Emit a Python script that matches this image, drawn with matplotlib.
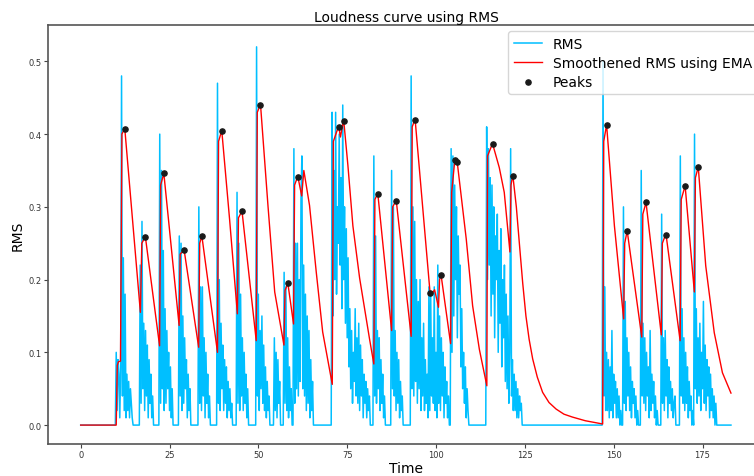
import numpy as np
import matplotlib
matplotlib.use('Agg')
import matplotlib.pyplot as plt

# RMS frames, 0.25 s apart (silence elsewhere)
frame_step = 0.25
clip_end = 183.0

rms_10_40 = [
    0.10, 0.02, 0.09, 0.07, 0.01, 0.08, 0.48, 0.04,
    0.23, 0.02, 0.18, 0.01, 0.07, 0.02, 0.06, 0.01,
    0.05, 0.03, 0.01, 0.00, 0.00, 0.00, 0.00, 0.00,
    0.00, 0.00, 0.00, 0.22, 0.03, 0.28, 0.05, 0.14,
    0.02, 0.13, 0.04, 0.11, 0.01, 0.09, 0.03, 0.07,
    0.01, 0.04, 0.00, 0.00, 0.00, 0.00, 0.00, 0.00,
    0.00, 0.40, 0.03, 0.35, 0.05, 0.24, 0.02, 0.16,
    0.03, 0.13, 0.05, 0.10, 0.02, 0.08, 0.01, 0.05,
    0.00, 0.00, 0.00, 0.00, 0.00, 0.00, 0.00, 0.26,
    0.04, 0.25, 0.02, 0.15, 0.03, 0.12, 0.05, 0.09,
    0.01, 0.07, 0.02, 0.05, 0.00, 0.00, 0.00, 0.00,
    0.00, 0.00, 0.00, 0.00, 0.00, 0.30, 0.03, 0.19,
    0.02, 0.19, 0.04, 0.12, 0.01, 0.10, 0.03, 0.07,
    0.01, 0.04, 0.00, 0.00, 0.00, 0.00, 0.00, 0.00,
    0.00, 0.00, 0.47, 0.03, 0.20, 0.02, 0.14, 0.05,
]
rms_40_70 = [
    0.11, 0.02, 0.09, 0.03, 0.08, 0.01, 0.06, 0.02,
    0.05, 0.01, 0.03, 0.00, 0.00, 0.00, 0.00, 0.00,
    0.32, 0.03, 0.25, 0.02, 0.18, 0.04, 0.12, 0.02,
    0.10, 0.03, 0.07, 0.01, 0.05, 0.00, 0.00, 0.00,
    0.00, 0.00, 0.00, 0.00, 0.00, 0.00, 0.52, 0.04,
    0.18, 0.02, 0.13, 0.05, 0.15, 0.03, 0.11, 0.02,
    0.08, 0.01, 0.06, 0.02, 0.04, 0.00, 0.00, 0.00,
    0.00, 0.00, 0.12, 0.02, 0.10, 0.01, 0.09, 0.03,
    0.06, 0.00, 0.00, 0.00, 0.00, 0.21, 0.03, 0.19,
    0.02, 0.12, 0.01, 0.08, 0.02, 0.05, 0.00, 0.00,
    0.38, 0.03, 0.25, 0.05, 0.25, 0.04, 0.20, 0.06,
    0.31, 0.37, 0.05, 0.22, 0.04, 0.18, 0.02, 0.15,
    0.03, 0.13, 0.01, 0.09, 0.02, 0.06, 0.00, 0.00,
]
rms_70_100 = [
    0.00, 0.00, 0.00, 0.43, 0.15, 0.35, 0.20, 0.43,
    0.18, 0.30, 0.25, 0.40, 0.22, 0.34, 0.16, 0.44,
    0.20, 0.30, 0.14, 0.27, 0.12, 0.23, 0.08, 0.16,
    0.05, 0.13, 0.03, 0.10, 0.06, 0.16, 0.04, 0.12,
    0.03, 0.14, 0.02, 0.11, 0.04, 0.09, 0.01, 0.07,
    0.03, 0.06, 0.01, 0.05, 0.02, 0.04, 0.00, 0.00,
    0.00, 0.00, 0.37, 0.04, 0.26, 0.03, 0.13, 0.05,
    0.12, 0.02, 0.09, 0.03, 0.07, 0.01, 0.04, 0.00,
    0.00, 0.00, 0.00, 0.00, 0.00, 0.00, 0.35, 0.05,
    0.30, 0.04, 0.13, 0.02, 0.10, 0.03, 0.09, 0.01,
    0.06, 0.02, 0.04, 0.00, 0.00, 0.00, 0.00, 0.00,
    0.00, 0.00, 0.00, 0.00, 0.48, 0.05, 0.30, 0.04,
    0.28, 0.06, 0.20, 0.03, 0.17, 0.05, 0.20, 0.02,
    0.12, 0.04, 0.14, 0.02, 0.09, 0.03, 0.07, 0.01,
    0.19, 0.02, 0.18, 0.04, 0.12, 0.03, 0.19, 0.02,
]
rms_100_125 = [
    0.10, 0.01, 0.22, 0.03, 0.15, 0.02, 0.12, 0.04,
    0.10, 0.01, 0.08, 0.03, 0.06, 0.01, 0.04, 0.00,
    0.00, 0.38, 0.10, 0.37, 0.15, 0.33, 0.20, 0.30,
    0.12, 0.26, 0.18, 0.22, 0.08, 0.16, 0.05, 0.10,
    0.03, 0.08, 0.01, 0.05, 0.02, 0.00, 0.00, 0.00,
    0.00, 0.00, 0.00, 0.00, 0.00, 0.00, 0.00, 0.00,
    0.00, 0.00, 0.00, 0.00, 0.00, 0.00, 0.00, 0.00,
    0.00, 0.41, 0.20, 0.38, 0.22, 0.34, 0.15, 0.33,
    0.18, 0.30, 0.12, 0.26, 0.20, 0.29, 0.10, 0.24,
    0.14, 0.27, 0.08, 0.20, 0.12, 0.22, 0.06, 0.18,
    0.05, 0.15, 0.03, 0.10, 0.38, 0.04, 0.09, 0.02,
    0.07, 0.02, 0.06, 0.01, 0.05, 0.01, 0.04, 0.02,
    0.03, 0.00, 0.00, 0.00,
]
rms_147_180 = [
    0.50, 0.04, 0.19, 0.02, 0.10, 0.02, 0.09, 0.01,
    0.08, 0.02, 0.13, 0.01, 0.07, 0.03, 0.06, 0.01,
    0.05, 0.01, 0.04, 0.00, 0.02, 0.00, 0.00, 0.30,
    0.03, 0.17, 0.02, 0.12, 0.04, 0.10, 0.02, 0.08,
    0.01, 0.06, 0.03, 0.05, 0.01, 0.04, 0.00, 0.02,
    0.00, 0.00, 0.00, 0.35, 0.04, 0.14, 0.03, 0.12,
    0.02, 0.10, 0.04, 0.08, 0.01, 0.13, 0.02, 0.07,
    0.03, 0.06, 0.01, 0.04, 0.00, 0.02, 0.00, 0.00,
    0.00, 0.00, 0.29, 0.03, 0.12, 0.02, 0.13, 0.04,
    0.09, 0.01, 0.08, 0.03, 0.06, 0.02, 0.05, 0.01,
    0.03, 0.04, 0.00, 0.00, 0.00, 0.00, 0.00, 0.37,
    0.04, 0.16, 0.03, 0.12, 0.02, 0.10, 0.03, 0.08,
    0.01, 0.06, 0.02, 0.04, 0.00, 0.02, 0.00, 0.40,
    0.05, 0.16, 0.03, 0.12, 0.04, 0.14, 0.02, 0.10,
    0.05, 0.17, 0.03, 0.11, 0.02, 0.09, 0.04, 0.08,
    0.01, 0.07, 0.02, 0.05, 0.01, 0.04, 0.00, 0.03,
]
rms_starts = [10.0, 40.0, 70.0, 100.0, 147.0]

# smoothed (EMA) curve, read as key points
ema_time = [0.0, 10.0, 10.3, 10.6, 11.2, 11.6, 12.4, 16.8, 17.2, 18.2,
            22.2, 22.5, 23.4, 27.7, 28.0, 29.1, 33.2, 33.5, 34.1, 38.5,
            38.8, 39.7, 41.9, 44.1, 44.4, 45.4, 49.4, 49.7, 50.6, 52.7,
            54.6, 57.2, 57.5, 58.3, 59.9, 60.2, 61.1, 62.2, 62.8, 64.4,
            66.3, 68.1, 70.8, 71.1, 72.6, 73.1, 74.0, 75.2, 76.6, 78.5,
            81.3, 82.5, 82.8, 83.6, 87.5, 87.8, 88.8, 93.0, 93.3, 94.1,
            98.3, 98.8, 99.6, 100.7, 101.0, 101.4, 104.1, 104.4, 105.2, 105.6,
            106.0, 108.5, 110.3, 112.2, 114.3, 114.5, 115.9, 117.8, 119.2, 120.8,
            121.1, 121.6, 122.6, 123.5, 124.4, 125.3, 126.2, 127.2, 128.5, 130.0,
            131.8, 133.8, 136.0, 138.4, 142.0, 146.9,
            147.2, 148.0, 150.2, 152.8, 153.1, 153.8, 157.9, 158.2, 159.1, 163.4,
            163.7, 164.7, 168.7, 169.0, 170.1, 172.7, 173.0, 173.8, 175.9, 178.3,
            180.6, 183.0]
ema_value = [0.0, 0.0, 0.082, 0.087, 0.088, 0.400, 0.408, 0.155, 0.250, 0.259,
             0.109, 0.330, 0.346, 0.137, 0.235, 0.241, 0.107, 0.250, 0.260, 0.100,
             0.390, 0.405, 0.283, 0.153, 0.285, 0.294, 0.116, 0.430, 0.441, 0.302,
             0.183, 0.110, 0.185, 0.195, 0.139, 0.330, 0.342, 0.315, 0.350, 0.302,
             0.210, 0.128, 0.056, 0.390, 0.411, 0.396, 0.420, 0.357, 0.274, 0.202,
             0.118, 0.084, 0.310, 0.319, 0.130, 0.300, 0.309, 0.122, 0.410, 0.421,
             0.183, 0.180, 0.186, 0.162, 0.200, 0.207, 0.112, 0.320, 0.360, 0.365,
             0.360, 0.256, 0.164, 0.104, 0.054, 0.370, 0.387, 0.354, 0.320, 0.238,
             0.330, 0.344, 0.300, 0.247, 0.195, 0.150, 0.118, 0.091, 0.066, 0.045,
             0.031, 0.022, 0.015, 0.011, 0.006, 0.0015,
             0.390, 0.413, 0.274, 0.146, 0.250, 0.267, 0.121, 0.290, 0.306, 0.124,
             0.250, 0.263, 0.116, 0.310, 0.329, 0.183, 0.340, 0.355, 0.219, 0.127,
             0.072, 0.044]

peak_time = [12.4, 18.2, 23.4, 29.1, 34.1, 39.7, 45.4, 50.6, 58.3, 61.1,
             72.6, 74.0, 83.6, 88.8, 94.1, 98.3, 101.4, 105.4, 105.8, 115.9,
             121.6, 148.0, 153.8, 159.1, 164.7, 170.1, 173.8]
peak_value = [0.407, 0.259, 0.346, 0.241, 0.260, 0.404, 0.294, 0.440, 0.195, 0.341,
              0.410, 0.418, 0.318, 0.308, 0.420, 0.182, 0.206, 0.364, 0.362, 0.386,
              0.343, 0.412, 0.267, 0.306, 0.262, 0.329, 0.355]

# build the full RMS series on the frame grid
time = np.arange(0, clip_end + frame_step / 2, frame_step)
rms = np.zeros_like(time)
for start, vals in zip(rms_starts, [rms_10_40, rms_40_70, rms_70_100, rms_100_125, rms_147_180]):
    i0 = int(round(start / frame_step))
    rms[i0:i0 + len(vals)] = vals

fig = plt.figure(figsize=(7.54, 4.77), dpi=100)
ax = fig.add_axes([48 / 754, 32 / 477, 716 / 754, 419 / 477])

ax.plot(time, rms, color='deepskyblue', linewidth=1.1, label='RMS')
ax.plot(ema_time, ema_value, color='red', linewidth=1.0, label='Smoothened RMS using EMA')
ax.scatter(peak_time, peak_value, color='#1a1a1a', s=14, zorder=5, label='Peaks')

ax.set_xlim(-9.2, 192.3)
ax.set_ylim(-0.026, 0.55)
ax.set_xticks([0, 25, 50, 75, 100, 125, 150, 175])
ax.set_yticks([0.0, 0.1, 0.2, 0.3, 0.4, 0.5])
ax.tick_params(labelsize=6, length=3, pad=1.5, colors='#444444', labelcolor='#333333')
for sp in ax.spines.values():
    sp.set_color('#555555')
    sp.set_linewidth(1.2)

ax.set_title('Loudness curve using RMS', fontsize=10, pad=3)
ax.set_xlabel('Time', fontsize=10, labelpad=1)
ax.set_ylabel('RMS', fontsize=10, labelpad=3)
ax.legend(loc='upper right', fontsize=10, framealpha=0.8, labelspacing=0.35,
          borderaxespad=0.45)

fig.savefig('out.png', dpi=100)
